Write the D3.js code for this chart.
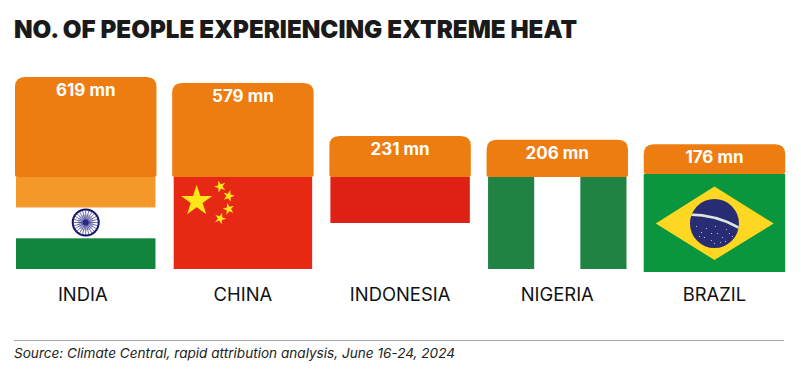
<!DOCTYPE html>
<html>
<head>
<meta charset="utf-8">
<script src="https://cdn.jsdelivr.net/npm/d3@7"></script>
<style>
  html, body { margin: 0; background: #fff; }
  text { font-family: Inter, "Open Sans", sans-serif; }
</style>
</head>
<body>
<div class="canvas"></div>
<script>
const categories = ["INDIA", "CHINA", "INDONESIA", "NIGERIA", "BRAZIL"];
const people = [619, 579, 231, 206, 176];
const valueLabels = ["619 mn", "579 mn", "231 mn", "206 mn", "176 mn"];

const titleText = "NO. OF PEOPLE EXPERIENCING EXTREME HEAT";
const sourceText = "Source: Climate Central, rapid attribution analysis, June 16-24, 2024";

const dim = { width: 801, height: 375 };

const svg = d3
  .select(".canvas")
  .append("svg")
  .attr("width", dim.width)
  .attr("height", dim.height)
  .style("display", "block");

const x = d3
  .scaleBand()
  .domain(categories)
  .range([15, 785.2])
  .paddingInner(0.1)
  .paddingOuter(0);

// top of each orange tab sits on this scale, the tabs all end where the flag starts
const y = d3.scaleLinear().domain([0, 619]).range([171, 77]);

// flag boxes: [top, bottom] in px, brazil is a bit taller in the original
const flagTop = { INDIA: 177, CHINA: 177, INDONESIA: 177, NIGERIA: 177, BRAZIL: 174 };
const flagBottom = { INDIA: 269, CHINA: 269, INDONESIA: 269, NIGERIA: 269, BRAZIL: 272 };
const flagInset = { INDIA: 1, CHINA: 1.5, INDONESIA: 1, NIGERIA: 1.5, BRAZIL: 0 };

svg
  .append("text")
  .attr("x", 14)
  .attr("y", 38)
  .attr("font-size", 24.5)
  .attr("font-weight", 900)
  .attr("fill", "#1a1a1a")
  .attr("textLength", 563)
  .attr("lengthAdjust", "spacingAndGlyphs")
  .text(titleText);

const star = d3.symbol().type(d3.symbolStar);

// each flag gets a group at its own top left corner
const flagBox = (name) => {
  const x0 = x(name) + flagInset[name];
  const w = x.bandwidth() - flagInset[name] * 2;
  const h = flagBottom[name] - flagTop[name];
  const g = svg.append("g").attr("transform", `translate(${x0}, ${flagTop[name]})`);
  return { g, w, h };
};

const band = (g, x0, y0, w, h, fill) =>
  g.append("rect").attr("x", x0).attr("y", y0).attr("width", w).attr("height", h).attr("fill", fill);

const drawIndia = () => {
  const { g, w, h } = flagBox("INDIA");
  band(g, 0, 0, w, h / 3, "#f5982a");
  band(g, 0, h / 3, w, h / 3, "#ffffff");
  band(g, 0, (h * 2) / 3, w, h / 3, "#11843b");
  const wheel = g.append("g").attr("transform", `translate(${w / 2}, ${h / 2 - 0.5})`);
  wheel.append("circle").attr("r", 13).attr("fill", "#fff").attr("stroke", "#16166a").attr("stroke-width", 2);
  wheel.append("circle").attr("r", 8).attr("fill", "#c9c9e6");
  wheel
    .selectAll("line")
    .data(d3.range(24))
    .enter()
    .append("line")
    .attr("x2", (d) => 12.5 * Math.cos((d * Math.PI) / 12))
    .attr("y2", (d) => 12.5 * Math.sin((d * Math.PI) / 12))
    .attr("stroke", "#34348a")
    .attr("stroke-width", 0.7);
  wheel.append("circle").attr("r", 3).attr("fill", "#2a2a80");
};

const drawChina = () => {
  const { g, w, h } = flagBox("CHINA");
  band(g, 0, 0, w, h, "#e62814");
  const smallStars = [
    [46.5, 9.5, -20],
    [55, 19, 15],
    [55, 32, -15],
    [46.5, 41.5, 20],
  ];
  g.append("path")
    .attr("d", star.size(300))
    .attr("transform", "translate(23, 24)")
    .attr("fill", "#ffe619");
  g.selectAll(".small")
    .data(smallStars)
    .enter()
    .append("path")
    .attr("d", star.size(42))
    .attr("transform", (d) => `translate(${d[0]}, ${d[1]}) rotate(${d[2]})`)
    .attr("fill", "#ffe619");
};

const drawIndonesia = () => {
  const { g, w, h } = flagBox("INDONESIA");
  band(g, 0, 0, w, h / 2, "#df2115");
};

const drawNigeria = () => {
  const { g, w, h } = flagBox("NIGERIA");
  band(g, 0, 0, w / 3, h, "#208343");
  band(g, (w * 2) / 3, 0, w / 3, h, "#208343");
};

const drawBrazil = () => {
  const { g, w, h } = flagBox("BRAZIL");
  band(g, 0, 0, w, h, "#0a963e");
  g.append("path")
    .attr("d", d3.line()([[12, h / 2 + 0.5], [w / 2, 12.5], [w - 11.5, h / 2 + 0.5], [w / 2, h - 12]]) + "Z")
    .attr("fill", "#fdd722");
  const globe = g.append("g").attr("transform", `translate(${w / 2}, ${h / 2 + 0.5})`);
  globe.append("clipPath").attr("id", "globe-clip").append("circle").attr("r", 24.5);
  globe.append("circle").attr("r", 24.5).attr("fill", "#282c72");
  const inner = globe.append("g").attr("clip-path", "url(#globe-clip)");
  inner
    .append("path")
    .attr("d", "M-26,-9 Q2,-9 26,5")
    .attr("fill", "none")
    .attr("stroke", "#dfe4dc")
    .attr("stroke-width", 2.6);
  const dots = [
    [-18, 3], [-13, 9], [-8, 5], [-10, 14], [-3, 10], [1, 3], [3, 10], [-3, 17],
    [8, 14], [11, 18], [15, 10], [18, 13], [6, 19], [-15, 13], [0, 20], [12, 6],
  ];
  inner
    .selectAll(".dot")
    .data(dots)
    .enter()
    .append("circle")
    .attr("cx", (d) => d[0])
    .attr("cy", (d) => d[1])
    .attr("r", 0.6)
    .attr("fill", "#cfd2ee");
};

drawIndia();
drawChina();
drawIndonesia();
drawNigeria();
drawBrazil();

const data = categories.map((name, i) => ({ name, value: people[i], label: valueLabels[i] }));

// tab with big round corners on top and barely rounded at the bottom
const tabPath = (d) => {
  const p = d3.path();
  const l = x(d.name);
  const r = l + x.bandwidth();
  const t = y(d.value);
  const b = flagTop[d.name];
  const big = 10;
  const small = 2.5;
  p.moveTo(l, t + big);
  p.quadraticCurveTo(l, t, l + big, t);
  p.lineTo(r - big, t);
  p.quadraticCurveTo(r, t, r, t + big);
  p.lineTo(r, b - small);
  p.quadraticCurveTo(r, b, r - small, b);
  p.lineTo(l + small, b);
  p.quadraticCurveTo(l, b, l, b - small);
  p.closePath();
  return p.toString();
};

svg
  .selectAll(".tab")
  .data(data)
  .enter()
  .append("path")
  .attr("class", "tab")
  .attr("d", tabPath)
  .attr("fill", "#ee7d11");

svg
  .selectAll(".value")
  .data(data)
  .enter()
  .append("text")
  .attr("class", "value")
  .attr("x", (d) => x(d.name) + x.bandwidth() / 2)
  .attr("y", (d) => y(d.value) + 19)
  .attr("text-anchor", "middle")
  .attr("font-size", 17)
  .attr("font-weight", 700)
  .attr("fill", "#fff")
  .text((d) => d.label);

svg
  .selectAll(".cat")
  .data(data)
  .enter()
  .append("text")
  .attr("class", "cat")
  .attr("x", (d) => x(d.name) + x.bandwidth() / 2 - (d.name === "INDIA" ? 3 : 0))
  .attr("y", 300.5)
  .attr("text-anchor", "middle")
  .attr("font-size", 18.4)
  .attr("font-weight", 400)
  .attr("fill", "#111")
  .text((d) => d.name);

svg
  .append("line")
  .attr("x1", 14)
  .attr("x2", 784)
  .attr("y1", 340.5)
  .attr("y2", 340.5)
  .attr("stroke", "#a8a8a8")
  .attr("stroke-width", 1);

svg
  .append("text")
  .attr("x", 14)
  .attr("y", 358)
  .attr("font-size", 13.5)
  .attr("font-style", "italic")
  .attr("fill", "#222")
  .attr("textLength", 441)
  .attr("lengthAdjust", "spacingAndGlyphs")
  .text(sourceText);
</script>
</body>
</html>
